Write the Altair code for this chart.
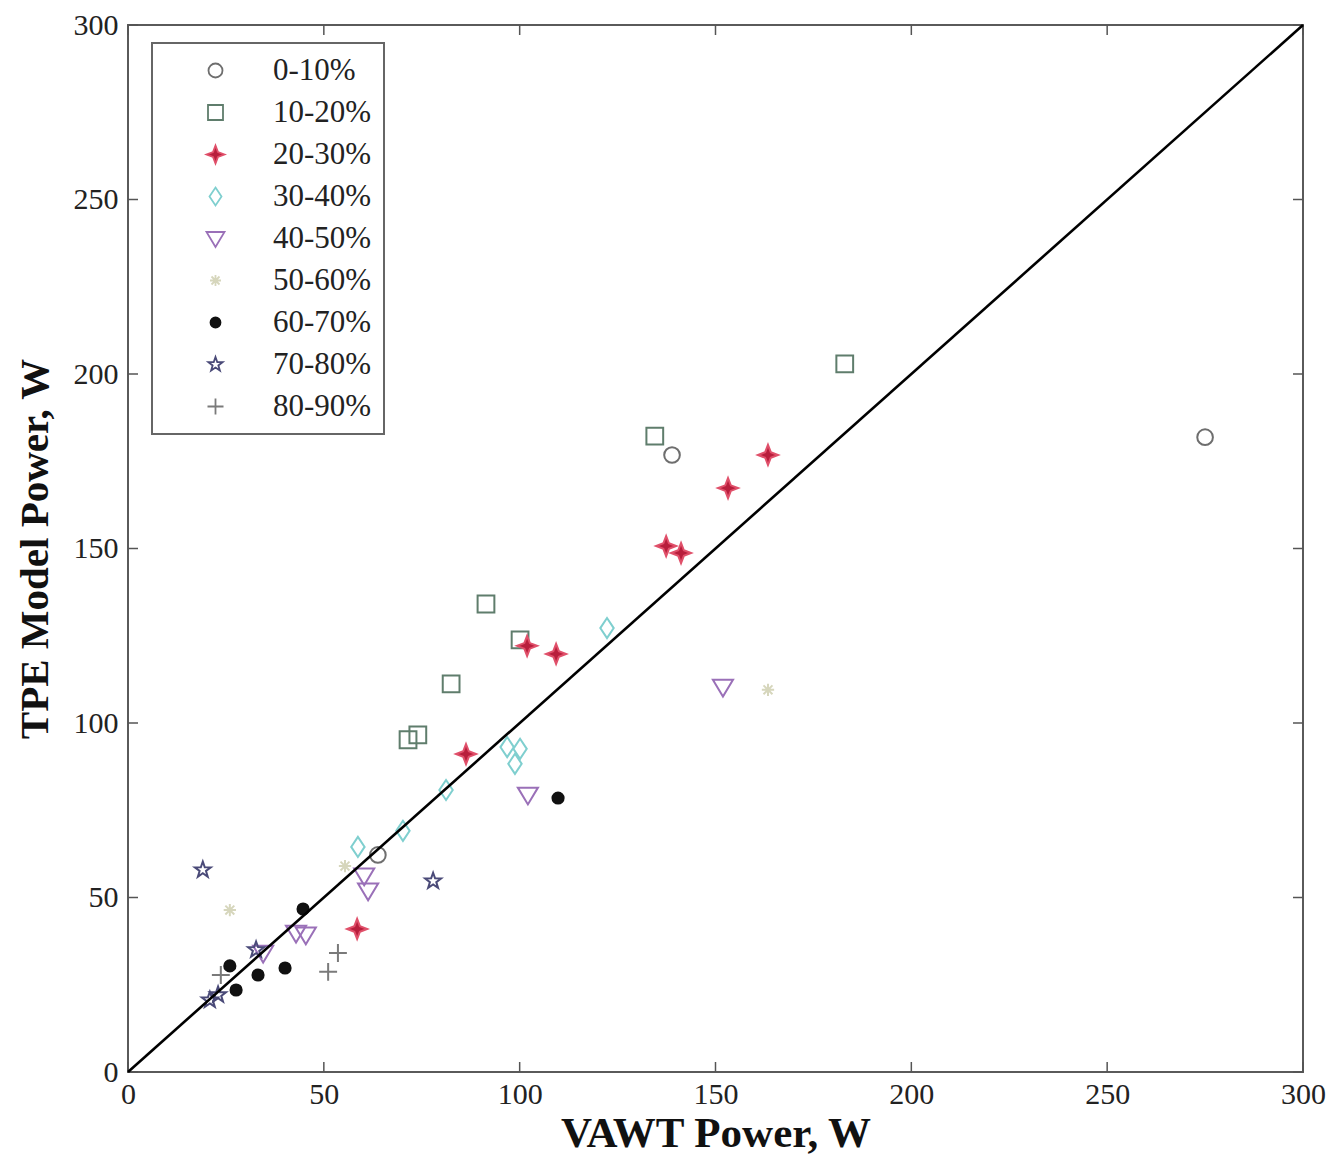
import altair as alt
import pandas as pd

categories = ["0-10%", "10-20%", "20-30%", "30-40%", "40-50%", "50-60%", "60-70%", "70-80%", "80-90%"]

x_0_10 = [275.0, 138.9, 63.8]
y_0_10 = [181.9, 176.8, 62.2]
x_10_20 = [183.0, 134.5, 91.4, 100.1, 82.5, 71.5, 74.0]
y_10_20 = [202.9, 182.2, 134.1, 123.8, 111.2, 95.2, 96.6]
x_20_30 = [163.4, 153.2, 137.4, 141.2, 101.9, 109.3, 86.3, 58.5]
y_20_30 = [176.8, 167.3, 150.7, 148.7, 122.1, 119.8, 91.1, 41.0]
x_30_40 = [122.3, 96.8, 100.1, 98.8, 81.2, 70.2, 58.7]
y_30_40 = [127.2, 93.1, 92.6, 88.3, 80.8, 69.1, 64.5]
x_40_50 = [151.9, 102.1, 60.3, 61.3, 45.4, 42.9, 34.5]
y_40_50 = [110.3, 79.4, 56.2, 51.9, 39.3, 39.8, 34.1]
x_50_60 = [26.0, 163.4, 55.4]
y_50_60 = [46.4, 109.5, 59.0]
x_60_70 = [44.7, 109.8, 40.1, 33.2, 27.6, 26.0]
y_60_70 = [46.7, 78.5, 29.8, 27.8, 23.5, 30.4]
x_70_80 = [19.1, 77.9, 32.7, 23.0, 20.9]
y_70_80 = [57.9, 54.7, 35.0, 22.1, 20.6]
x_80_90 = [51.1, 53.6, 23.7]
y_80_90 = [28.7, 34.1, 27.8]

diag_x = [0, 300]
diag_y = [0, 300]
tick_values = [0, 50, 100, 150, 200, 250, 300]

series_x = [x_0_10, x_10_20, x_20_30, x_30_40, x_40_50, x_50_60, x_60_70, x_70_80, x_80_90]
series_y = [y_0_10, y_10_20, y_20_30, y_30_40, y_40_50, y_50_60, y_60_70, y_70_80, y_80_90]

rows = []
for c, xs, ys in zip(categories, series_x, series_y):
    for a, b in zip(xs, ys):
        rows.append({"cat": c, "x": a, "y": b})
pts = pd.DataFrame(rows)

stroke_colors = ["#6e6e6e", "#5f7d6c", "#e0506a", "#7fcfcf", "#9a70b8", "#d6d6bc", "#111111", "#4a4a78", "#7a7a7a"]
fill_colors = ["transparent", "transparent", "#b81e3c", "transparent", "transparent", "transparent", "#111111", "transparent", "transparent"]
shapes = [
    "M0.7,0A0.7,0.7,0,1,1,-0.7,0A0.7,0.7,0,1,1,0.7,0Z",
    "M-0.75,-0.75L0.75,-0.75L0.75,0.75L-0.75,0.75Z",
    "M0,-0.9L0.25,-0.25L0.9,0L0.25,0.25L0,0.9L-0.25,0.25L-0.9,0L-0.25,-0.25Z",
    "M0,-0.9L0.6,0L0,0.9L-0.6,0Z",
    "M-0.9,-0.65L0.9,-0.65L0,0.85Z",
    "M-0.55,0L0.55,0M0,-0.55L0,0.55M-0.4,-0.4L0.4,0.4M-0.4,0.4L0.4,-0.4",
    "M0.5,0A0.5,0.5,0,1,1,-0.5,0A0.5,0.5,0,1,1,0.5,0Z",
    "M0,-0.75L0.176,-0.243L0.713,-0.232L0.285,0.093L0.441,0.607L0,0.3L-0.441,0.607L-0.285,0.093L-0.713,-0.232L-0.176,-0.243Z",
    "M-0.8,0L0.8,0M0,-0.8L0,0.8",
]

W, H = 1175, 1047
FONT = "Liberation Serif"

leg = alt.Legend(
    title=None, orient="none", legendX=24, legendY=18,
    symbolSize=400, symbolStrokeWidth=1.8, symbolOffset=36, labelOffset=42,
    labelFontSize=31, labelFont=FONT, labelColor="#222222",
    rowPadding=10, padding=12, strokeColor="#666666",
)

xscale = alt.Scale(domain=[0, 300], nice=False)
yscale = alt.Scale(domain=[0, 300], nice=False)

points = alt.Chart(pts).mark_point(size=500, strokeWidth=2, opacity=1).encode(
    x=alt.X("x:Q", scale=xscale, title="VAWT Power, W",
            axis=alt.Axis(values=tick_values, ticks=False, tickSize=0, domain=False, grid=False,
                          labelFlush=False, labelOverlap=False,
                          labelFont=FONT, labelFontSize=30, labelColor="#222222", labelPadding=7,
                          titleFont=FONT, titleFontSize=43, titleFontWeight="bold", titleColor="#111111",
                          titleBaseline="alphabetic", titleY=74)),
    y=alt.Y("y:Q", scale=yscale, title="TPE Model Power, W",
            axis=alt.Axis(values=tick_values, ticks=False, tickSize=0, domain=False, grid=False,
                          labelFlush=False, labelOverlap=False,
                          labelFont=FONT, labelFontSize=30, labelColor="#222222", labelPadding=10,
                          titleFont=FONT, titleFontSize=41, titleFontWeight="bold", titleColor="#111111",
                          titleBaseline="alphabetic", titleX=-81, titleY=H / 2)),
    stroke=alt.Stroke("cat:N", scale=alt.Scale(domain=categories, range=stroke_colors), legend=leg),
    fill=alt.Fill("cat:N", scale=alt.Scale(domain=categories, range=fill_colors), legend=leg),
    shape=alt.Shape("cat:N", scale=alt.Scale(domain=categories, range=shapes), legend=leg),
)

diag = alt.Chart(pd.DataFrame({"x": diag_x, "y": diag_y})).mark_line(color="#000000", strokeWidth=2.6).encode(
    x=alt.X("x:Q", scale=xscale),
    y=alt.Y("y:Q", scale=yscale),
)

tdf = pd.DataFrame({"v": tick_values})
tick_style = dict(color="#555555", strokeWidth=1.5)
t_bottom = alt.Chart(tdf).mark_rule(**tick_style).encode(
    x=alt.X("v:Q", scale=xscale), y=alt.value(H), y2=alt.value(H - 10))
t_top = alt.Chart(tdf).mark_rule(**tick_style).encode(
    x=alt.X("v:Q", scale=xscale), y=alt.value(0), y2=alt.value(10))
t_left = alt.Chart(tdf).mark_rule(**tick_style).encode(
    y=alt.Y("v:Q", scale=yscale), x=alt.value(0), x2=alt.value(10))
t_right = alt.Chart(tdf).mark_rule(**tick_style).encode(
    y=alt.Y("v:Q", scale=yscale), x=alt.value(W), x2=alt.value(W - 10))

chart = alt.layer(points, t_bottom, t_top, t_left, t_right, diag).properties(
    width=W, height=H,
    autosize=alt.AutoSizeParams(type="none"),
    padding={"left": 120, "top": 17, "right": 32, "bottom": 82},
).configure_view(stroke="#5a5a5a", strokeWidth=2).configure_legend(strokeWidth=2)

chart.save("out.html", embed_options={"renderer": "svg", "actions": False})
